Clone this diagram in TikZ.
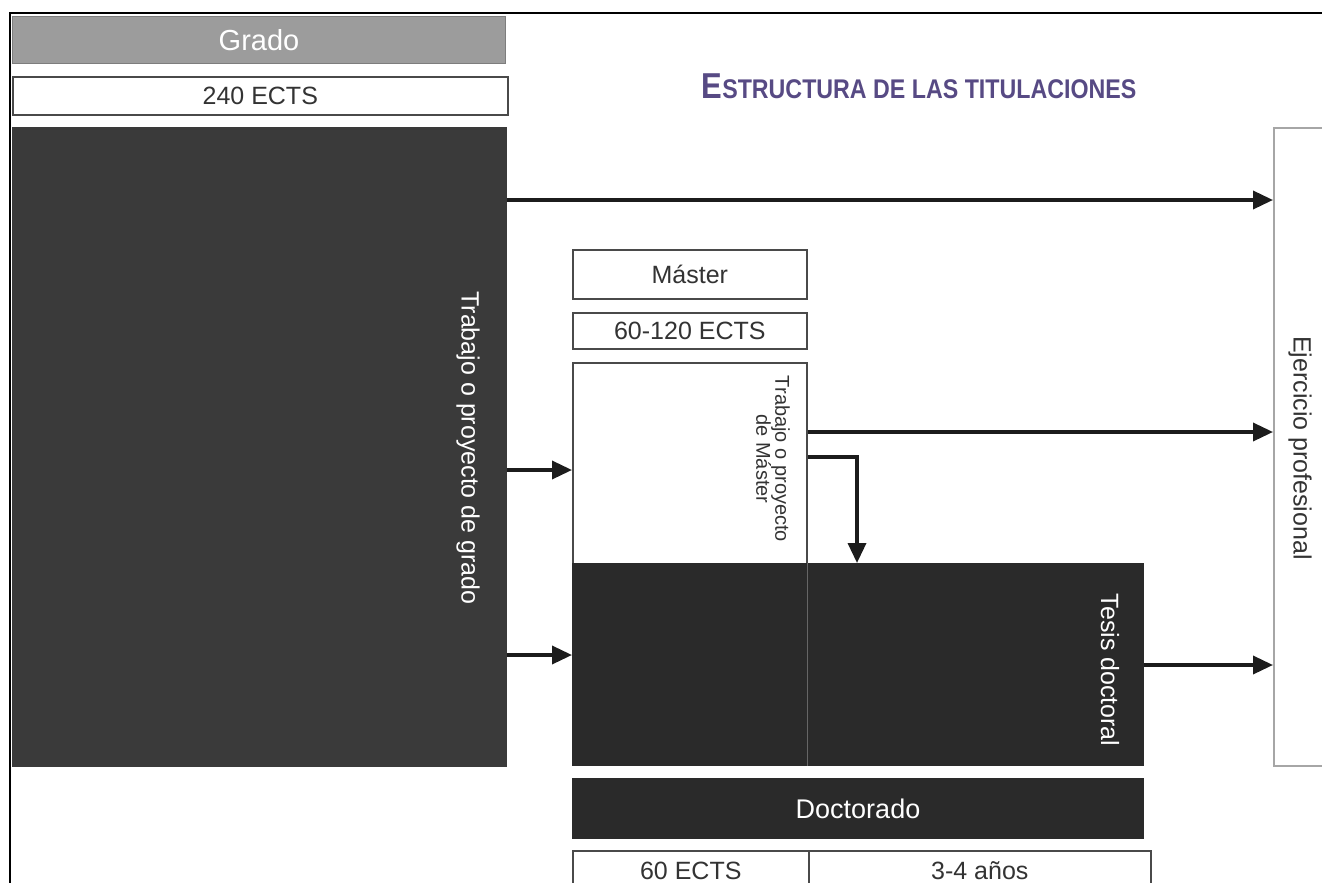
\documentclass[tikz,border=0pt]{standalone}
\usepackage{fontspec}
\setmainfont{Liberation Sans}
\usetikzlibrary{arrows.meta,calc}
\definecolor{darkA}{HTML}{3A3A3A}
\definecolor{darkB}{HTML}{2A2A2A}
\definecolor{gradoGray}{HTML}{9C9C9C}
\definecolor{titlePurple}{HTML}{574A84}
\definecolor{edge}{HTML}{4A4A4A}
\definecolor{txt}{HTML}{333333}
\definecolor{arrowc}{HTML}{1C1C1C}
\begin{document}
\begin{tikzpicture}[x=1pt,y=-1pt,
  box/.style={draw=edge, line width=1.6pt, fill=white, anchor=north west, inner sep=0pt, text=txt, font=\fontsize{25}{25}\selectfont},
  darkbox/.style={draw=darkB, line width=1pt, fill=darkB, anchor=north west, inner sep=0pt, text=white, font=\fontsize{27}{27}\selectfont},
  vlabel/.style={rotate=-90, inner sep=0pt, font=\fontsize{25}{25}\selectfont},
  arr/.style={line width=3.5pt, draw=arrowc, -{Triangle[length=20pt,width=18pt]}}]
\useasboundingbox (0,0) rectangle (1322,883);
\fill[white] (0,0) rectangle (1322,883);
% frame
\draw[line width=1.3pt] (10,883) -- (10,13) -- (1322,13);

% title
\node[text=titlePurple, font=\bfseries, inner sep=0pt] (title) at (919,86)
  {\scalebox{0.86}[1]{\fontsize{36}{36}\selectfont E\fontsize{27}{27}\selectfont STRUCTURA DE LAS TITULACIONES}};

% Grado column
\node[box, fill=gradoGray, draw=gradoGray!80!black, line width=1pt, text=white, minimum width=493pt, minimum height=47pt, font=\fontsize{29}{29}\selectfont] (grado) at (12,16) {Grado};
\node[box, minimum width=495pt, minimum height=38pt] (ects240) at (12,76) {240 ECTS};
\node[box, fill=darkA, draw=darkA, minimum width=493pt, minimum height=638pt] (gbody) at (12,127) {};
\node[vlabel, text=white] (gbodytxt) at (468,448) {Trabajo o proyecto de grado};

% Ejercicio profesional
\node[box, draw=gray!70, line width=2pt, minimum width=90pt, minimum height=638pt] (ejer) at (1273,127) {};
\node[vlabel, text=txt] (ejertxt) at (1300,448) {Ejercicio profesional};

% Master column
\node[box, minimum width=234pt, minimum height=49pt] (master) at (572,249) {Máster};
\node[box, minimum width=234pt, minimum height=36pt] (ects60120) at (572,312) {60-120 ECTS};
\node[box, minimum width=234pt, minimum height=203pt] (mbody) at (572,362) {};
\node[vlabel, text=txt, align=center, font=\fontsize{20}{19}\selectfont] (mbodytxt) at (773,459) {Trabajo o proyecto\\de Máster};

% Doctorado
\node[darkbox, minimum width=571pt, minimum height=202pt] (doct) at (572,563) {};
\draw[line width=1pt, draw=black!60] ($(doct.north west)+(235,0)$) -- ($(doct.south west)+(235,0)$);
\node[vlabel, text=white] (doctxt) at (1110,670) {Tesis doctoral};
\node[darkbox, minimum width=571pt, minimum height=60pt] (doctorado) at (572,778) {Doctorado};
\node[box, minimum width=236pt, minimum height=50pt] (ects60) at (572,850) {\raisebox{10pt}{60 ECTS}};
\node[box, minimum width=342pt, minimum height=50pt] (anos) at (808,850) {\raisebox{10pt}{3-4 años}};

% connectors
\coordinate (a1) at (gbody.east |- 0,200);
\draw[arr] (a1) -- (a1 -| ejer.west);
\coordinate (a2) at (gbody.east |- 0,470);
\draw[arr] (a2) -- (a2 -| mbody.west);
\coordinate (a3) at (gbody.east |- 0,655);
\draw[arr] (a3) -- (a3 -| doct.west);
\coordinate (a4) at (mbody.east |- 0,432);
\draw[arr] (a4) -- (a4 -| ejer.west);
\coordinate (a5) at (mbody.east |- 0,457);
\coordinate (a5t) at (857,0);
\draw[arr] (a5) -| (a5t |- doct.north);
\coordinate (a6) at (doct.east |- 0,665);
\draw[arr] (a6) -- (a6 -| ejer.west);
\end{tikzpicture}
\end{document}
